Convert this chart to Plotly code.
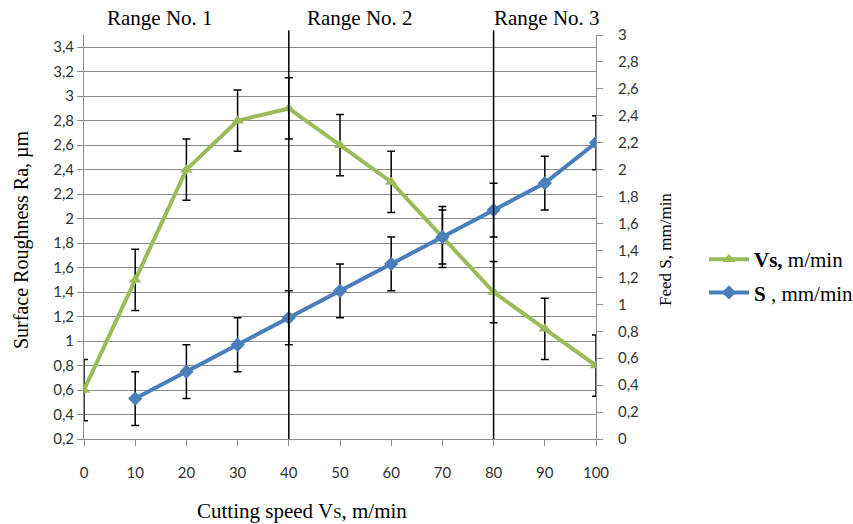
import plotly.graph_objects as go

# Data
speed = [0, 10, 20, 30, 40, 50, 60, 70, 80, 90, 100]
ra_values = [0.6, 1.5, 2.4, 2.8, 2.9, 2.6, 2.3, 1.85, 1.4, 1.1, 0.8]
ra_error = [0.25] * 11
feed_speed = [10, 20, 30, 40, 50, 60, 70, 80, 90, 100]
feed_values = [0.3, 0.5, 0.7, 0.9, 1.1, 1.3, 1.5, 1.7, 1.9, 2.2]
feed_error = [0.2] * 10
range_lines = [40, 80]
range_labels = ["Range No. 1", "Range No. 2", "Range No. 3"]
range_label_pos = [14.8, 54.0, 90.5]

GREEN = "#9BBB59"
BLUE = "#4A7EBB"
SERIF = "Liberation Serif"
SANS = "Lato"

fig = go.Figure()

fig.add_trace(go.Scatter(
    x=speed, y=ra_values, name="<b>Vs,</b> m/min",
    mode="lines+markers",
    line=dict(color=GREEN, width=4),
    marker=dict(symbol="triangle-up", size=11, color=GREEN),
    error_y=dict(type="data", array=ra_error, color="black", thickness=1.5, width=4),
    yaxis="y", legendgroup="a",
))
fig.add_trace(go.Scatter(
    x=feed_speed, y=feed_values, name="<b>S</b> , mm/min",
    mode="lines+markers",
    line=dict(color=BLUE, width=4),
    marker=dict(symbol="diamond", size=11, color=BLUE),
    error_y=dict(type="data", array=feed_error, color="black", thickness=1.5, width=4),
    yaxis="y2", legendgroup="b",
))

shapes = []
for xv in range_lines:
    shapes.append(dict(type="line", xref="x", yref="paper", x0=xv, x1=xv,
                       y0=0, y1=1.012, line=dict(color="black", width=1.5)))

annotations = []
for lab, xp in zip(range_labels, range_label_pos):
    annotations.append(dict(text=lab, x=xp, xref="x", y=(439 - 18) / 404, yref="paper",
                            showarrow=False, font=dict(family=SERIF, size=21, color="black"),
                            xanchor="center", yanchor="middle"))

# axis titles
annotations.append(dict(text="Surface Roughness Ra, µm", textangle=-90,
                        x=(21 - 84) / 512, xref="paper", y=(439 - 240) / 404, yref="paper",
                        showarrow=False, font=dict(family=SERIF, size=20, color="black"),
                        xanchor="center", yanchor="middle"))
annotations.append(dict(text="Feed S, mm/min", textangle=-90,
                        x=(665 - 84) / 512, xref="paper", y=(439 - 250) / 404, yref="paper",
                        showarrow=False, font=dict(family=SERIF, size=17, color="black"),
                        xanchor="center", yanchor="middle"))
annotations.append(dict(text="Cutting speed V<span style='font-size:15px'>S</span>, m/min",
                        x=(302 - 84) / 512, xref="paper", y=(439 - 511) / 404, yref="paper",
                        showarrow=False, font=dict(family=SERIF, size=21, color="black"),
                        xanchor="center", yanchor="middle"))

fig.update_layout(
    width=853, height=524,
    margin=dict(l=84, r=257, t=35, b=85),
    paper_bgcolor="white", plot_bgcolor="white",
    separators=",.",
    showlegend=True,
    legend=dict(xref="container", yref="container",
                x=704 / 853, y=1 - 239 / 524, xanchor="left", yanchor="top",
                font=dict(family=SERIF, size=21, color="black"),
                tracegroupgap=3, itemwidth=40, bgcolor="rgba(0,0,0,0)"),
    xaxis=dict(range=[0, 100], tick0=0, dtick=10, showgrid=False, zeroline=False,
               showline=True, linecolor="#8c8c8c", linewidth=1,
               ticks="outside", ticklen=6, tickcolor="#8c8c8c",
               ticklabelstandoff=14,
               tickfont=dict(family=SANS, size=15, color="#333333")),
    yaxis=dict(range=[0.2, 3.5], tick0=0.2, dtick=0.2, showgrid=True,
               gridcolor="#8c8c8c", gridwidth=1, zeroline=False,
               showline=True, linecolor="#8c8c8c", linewidth=1,
               ticks="outside", ticklen=6, tickcolor="#8c8c8c",
               tickfont=dict(family=SANS, size=15, color="#333333")),
    yaxis2=dict(range=[0, 3], tick0=0, dtick=0.2, overlaying="y", side="right",
                showgrid=False, zeroline=False,
                showline=True, linecolor="#8c8c8c", linewidth=1,
                ticks="outside", ticklen=6, tickcolor="#8c8c8c",
                ticklabelstandoff=12,
                tickfont=dict(family=SANS, size=15, color="#333333")),
    shapes=shapes,
    annotations=annotations,
)

fig.write_html("out.html", config={"displayModeBar": False},
               post_script="document.body.style.margin='0';")
